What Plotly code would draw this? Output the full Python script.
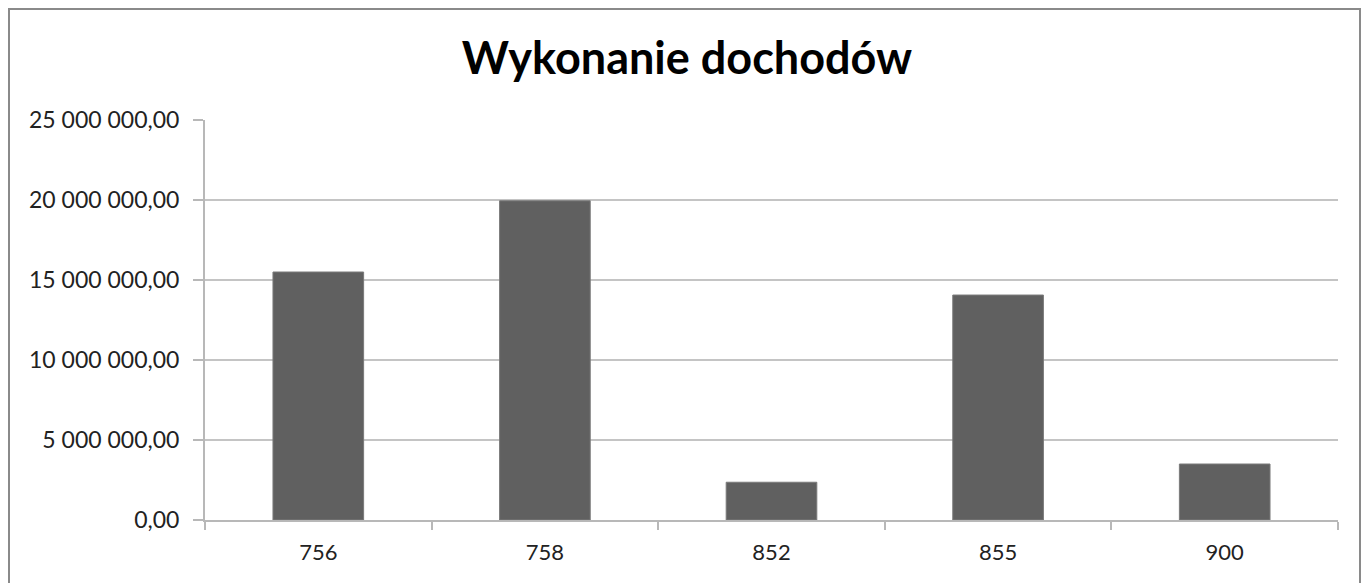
import plotly.graph_objects as go

categories = ["756", "758", "852", "855", "900"]
values = [15500000, 19950000, 2360000, 14060000, 3500000]
y_ticks = [0, 5000000, 10000000, 15000000, 20000000, 25000000]

# the page body has an 8px margin, so the figure starts at (8, 8)
OFF = 8
W, H = 1370 - OFF, 583 - OFF
L, T = 205 - OFF, 120 - OFF
R = W - (1338 - OFF)
B = H - (520 - OFF)
pw = W - L - R
ph = H - T - B

fig = go.Figure(go.Bar(
    x=categories, y=values, width=0.4,
    marker=dict(color="#606060", line=dict(color="#7a7a7a", width=1)),
))

# outer frame (paper coordinates)
fx0 = (1 - L) / pw
fx1 = (1352 - L) / pw
fy1 = (H - B) / ph - 1 / ph
fy0 = -(B + 10) / ph
fig.add_shape(type="rect", xref="paper", yref="paper",
              x0=fx0, x1=fx1, y0=fy0, y1=fy1,
              line=dict(color="#8a8a8a", width=2), fillcolor="rgba(0,0,0,0)", layer="below")

fig.update_layout(
    width=W, height=H,
    margin=dict(l=L, r=R, t=T, b=B),
    paper_bgcolor="white", plot_bgcolor="white",
    separators=", ",
    showlegend=False,
    title=dict(text="<b>Wykonanie dochodów</b>", x=(687 - OFF) / W, xref="container",
               xanchor="center", y=1 - 50 / H, yanchor="middle",
               font=dict(family="Lato", size=45, color="#000000")),
    font=dict(family="Lato", size=23, color="#222222"),
    bargap=0.6,
)
fig.update_xaxes(
    type="category", tickson="boundaries", ticks="outside", ticklen=8, tickwidth=2,
    tickcolor="#b8b8b8", showline=True, linecolor="#b8b8b8", linewidth=2,
    showgrid=False, ticklabelstandoff=12,
    tickfont=dict(family="Lato", size=22, color="#222222"),
)
fig.update_yaxes(
    range=[0, 25000000], tickvals=y_ticks, tickformat=",.2f",
    ticks="outside", ticklen=10, tickwidth=2, tickcolor="#b8b8b8",
    showline=True, linecolor="#b8b8b8", linewidth=2,
    showgrid=True, gridcolor="#c4c4c4", gridwidth=2, zeroline=False,
    ticklabelstandoff=9,
    tickfont=dict(family="Lato", size=23, color="#222222"),
)

fig.write_html("out.html")
